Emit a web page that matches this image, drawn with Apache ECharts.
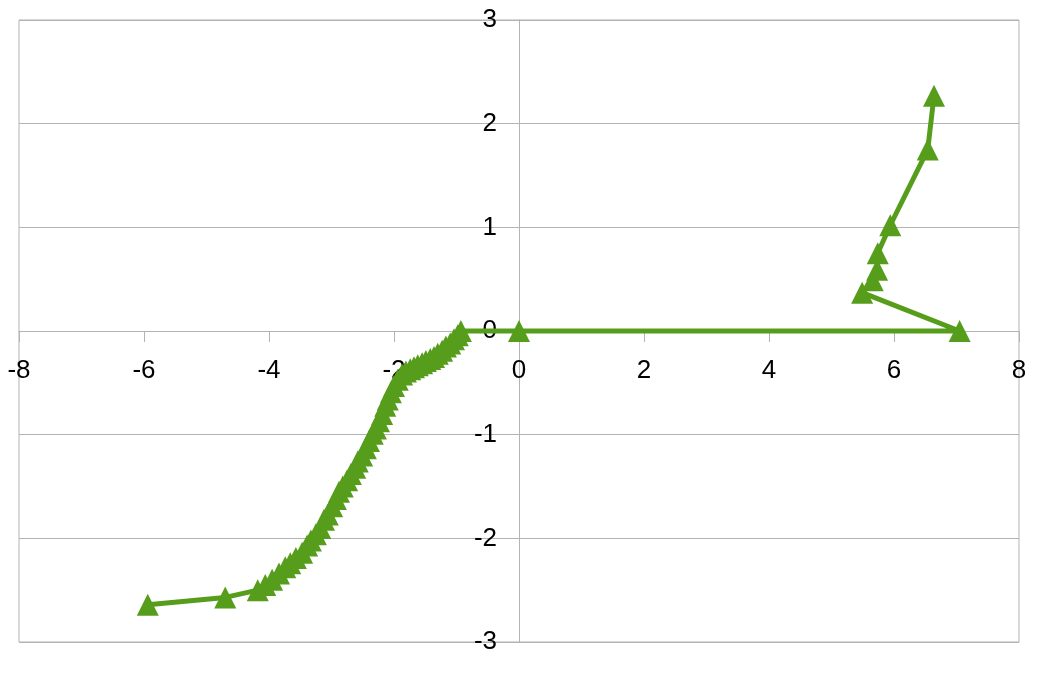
<!DOCTYPE html>
<html>
<head>
<meta charset="utf-8">
<script src="https://cdn.jsdelivr.net/npm/echarts@6/dist/echarts.min.js"></script>
<style>
html,body{margin:0;padding:0;background:#fff;}
#chart{width:1052px;height:676px;}
</style>
</head>
<body>
<div id="chart"></div>
<script>
// Data (x, y pairs in drawing order)
const xValues = [-5.94,-4.70,-4.18,-4.06,-3.95,-3.84,-3.74,-3.66,-3.57,-3.47,-3.39,-3.33,-3.25,-3.18,-3.12,-3.06,-2.99,-2.93,-2.88,-2.82,-2.75,-2.69,-2.62,-2.58,-2.51,-2.45,-2.40,-2.34,-2.29,-2.24,-2.19,-2.14,-2.10,-2.05,-2.00,-1.94,-1.87,-1.81,-1.74,-1.68,-1.62,-1.55,-1.49,-1.42,-1.36,-1.30,-1.23,-1.17,-1.10,-1.04,-0.98,-0.93,0,7.05,5.49,5.66,5.73,5.74,5.94,6.54,6.64];
const yValues = [-2.64,-2.57,-2.50,-2.45,-2.40,-2.34,-2.28,-2.24,-2.19,-2.14,-2.07,-2.02,-1.96,-1.90,-1.82,-1.77,-1.69,-1.62,-1.55,-1.50,-1.44,-1.38,-1.32,-1.26,-1.20,-1.13,-1.06,-0.99,-0.94,-0.87,-0.80,-0.72,-0.66,-0.59,-0.53,-0.47,-0.42,-0.39,-0.37,-0.35,-0.33,-0.31,-0.29,-0.27,-0.25,-0.22,-0.19,-0.15,-0.12,-0.08,-0.04,0.00,0,0,0.37,0.49,0.59,0.75,1.02,1.75,2.27];
const xAxisRange = [-8, 8];
const yAxisRange = [-3, 3];

const points = xValues.map((x, i) => [x, yValues[i]]);
const gray = '#b3b3b3';
const font = 'Liberation Sans, Arial, sans-serif';

const gridLeft = 19, gridRight = 33, gridTop = 20, gridBottom = 34;
const W = 1052, H = 676;
const plotW = W - gridLeft - gridRight;
const plotH = H - gridTop - gridBottom;
// place each axis at the other axis's zero
const xZeroFrac = (0 - xAxisRange[0]) / (xAxisRange[1] - xAxisRange[0]);
const yZeroFrac = (0 - yAxisRange[0]) / (yAxisRange[1] - yAxisRange[0]);

const chart = echarts.init(document.getElementById('chart'), null, {renderer: 'canvas'});
chart.setOption({
  animation: false,
  backgroundColor: '#ffffff',
  grid: {left: gridLeft, right: gridRight, top: gridTop, bottom: gridBottom, show: true, borderColor: gray, borderWidth: 1, containLabel: false, outerBoundsMode: 'none'},
  xAxis: {
    type: 'value', min: xAxisRange[0], max: xAxisRange[1], interval: 2,
    position: 'bottom', offset: -plotH * yZeroFrac,
    axisLine: {show: true, onZero: false, lineStyle: {color: gray, width: 1}},
    axisTick: {show: true, length: 11, lineStyle: {color: gray}},
    splitLine: {show: false},
    axisLabel: {color: '#000', fontSize: 26, fontFamily: font, margin: 27}
  },
  yAxis: {
    type: 'value', min: yAxisRange[0], max: yAxisRange[1], interval: 1,
    position: 'left', offset: -plotW * xZeroFrac,
    axisLine: {show: true, onZero: false, lineStyle: {color: gray, width: 1}},
    axisTick: {show: false},
    splitLine: {show: true, lineStyle: {color: gray, width: 1}},
    axisLabel: {color: '#000', fontSize: 26, fontFamily: font, margin: 22}
  },
  series: [{
    type: 'line',
    data: points,
    symbol: 'triangle',
    symbolSize: [22, 22],
    lineStyle: {color: '#579d1c', width: 5},
    itemStyle: {color: '#579d1c'},
    z: 5
  }]
});
</script>
</body>
</html>
